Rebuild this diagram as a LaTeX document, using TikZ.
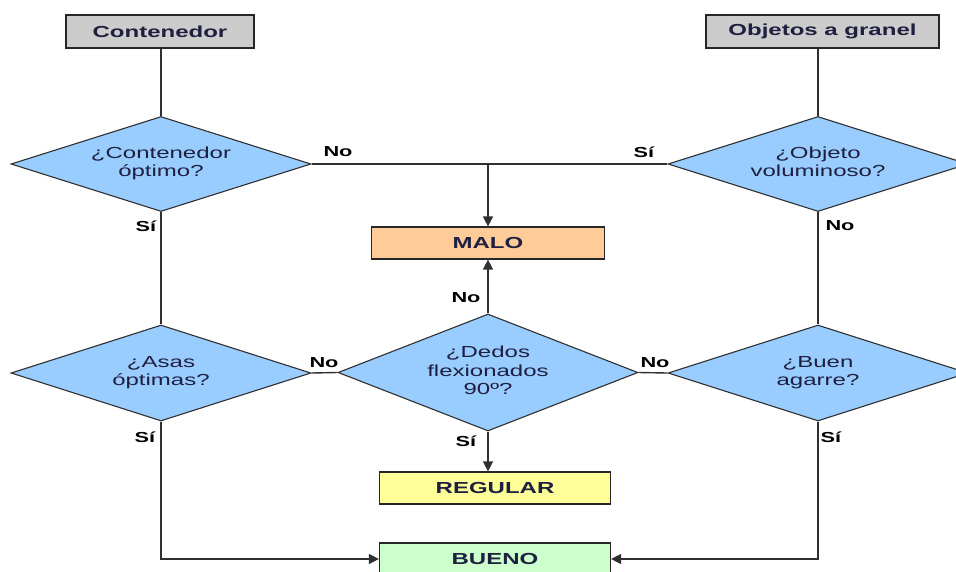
\documentclass[tikz,border=0pt]{standalone}
\usepackage{fontspec}
\setmainfont{Liberation Sans}
\usetikzlibrary{shapes.geometric,arrows.meta}
\definecolor{dblue}{HTML}{99CCFF}
\definecolor{boxgray}{HTML}{CCCCCC}
\definecolor{orangebox}{HTML}{FFCC99}
\definecolor{yellowbox}{HTML}{FFFF99}
\definecolor{greenbox}{HTML}{CCFFCC}
\definecolor{txt}{HTML}{1F1F3F}
\definecolor{edge}{HTML}{303030}
\newcommand\dtxt[1]{\scalebox{1.5}[1]{\fontsize{16}{18.5}\selectfont\begin{tabular}{@{}c@{}}#1\end{tabular}}}
\newcommand\btxt[1]{\scalebox{1.5}[1]{\fontsize{16}{18}\selectfont\bfseries #1}}
\newcommand\ltxt[1]{\scalebox{1.5}[1]{\fontsize{14.5}{16}\selectfont\bfseries #1}}
\tikzset{
  dec/.style={diamond, draw=edge, line width=1.1pt, fill=dblue, text=txt, inner sep=0pt, shape aspect=3.16, minimum width=300pt},
  rbox/.style={rectangle, draw=black!85, line width=1.2pt, text=txt, inner sep=0pt, minimum height=32pt},
  conn/.style={draw=edge, line width=1.4pt},
  arr/.style={conn, -{Triangle[length=10pt,width=10pt]}},
  lab/.style={text=black, inner sep=0pt}
}
\begin{document}
\begin{tikzpicture}[x=1pt,y=-1pt]
\useasboundingbox (0,0) rectangle (956,571);
\clip (0,0) rectangle (956,571);
% boxes
\node[rbox, fill=boxgray, minimum width=188pt, minimum height=33pt] (cont) at (160,31.5) {\btxt{Contenedor}};
\node[rbox, fill=boxgray, minimum width=233pt, minimum height=33pt] (obj) at (822.5,31.5) {\btxt{Objetos a granel}};
\node[rbox, fill=orangebox, minimum width=233pt] (malo) at (488,243) {\btxt{MALO}};
\node[rbox, fill=yellowbox, minimum width=231pt] (regular) at (495,488) {\btxt{REGULAR}};
\node[rbox, fill=greenbox, minimum width=231pt] (bueno) at (495,559) {\btxt{BUENO}};
% decisions
\node[dec, minimum height=95pt] (d1) at (161,164) {\dtxt{¿Contenedor\\óptimo?}};
\node[dec, minimum height=95pt] (d2) at (818,164) {\dtxt{¿Objeto\\voluminoso?}};
\node[dec, minimum height=96pt] (asas) at (161,373) {\dtxt{¿Asas\\óptimas?}};
\node[dec, minimum height=117pt, shape aspect=2.56] (dedos) at (488,372.5) {\dtxt{¿Dedos\\flexionados\\90º?}};
\node[dec, minimum height=96pt] (buen) at (818,373) {\dtxt{¿Buen\\agarre?}};
% connectors
\draw[conn] (d1.north |- cont.south) -- (d1.north);
\draw[conn] (d2.north |- obj.south) -- (d2.north);
\draw[conn] (d1.east) -- (d2.west);
\draw[arr] (d1.east -| malo.north) -- (malo.north);
\draw[conn] (d1) -- (asas);
\draw[conn] (d2) -- (buen);
\draw[conn] (asas.east) -- (dedos.west);
\draw[conn] (dedos.east) -- (buen.west);
\draw[arr] (dedos.north) -- (malo.south -| dedos.north);
\draw[arr] (dedos.south) -- (regular.north -| dedos.south);
\draw[arr] (asas.south) -- (asas.south |- bueno.west) -- (bueno.west);
\draw[arr] (buen.south) -- (buen.south |- bueno.east) -- (bueno.east);
% labels
\node[lab] (l1) at (338,152) {\ltxt{No}};
\node[lab] (l2) at (644,152) {\ltxt{Sí}};
\node[lab] (l3) at (146,226) {\ltxt{Sí}};
\node[lab] (l4) at (840,226) {\ltxt{No}};
\node[lab] (l5) at (466,298) {\ltxt{No}};
\node[lab] (l6) at (324,363) {\ltxt{No}};
\node[lab] (l7) at (655,363) {\ltxt{No}};
\node[lab] (l8) at (145,437) {\ltxt{Sí}};
\node[lab] (l9) at (466,441) {\ltxt{Sí}};
\node[lab] (l10) at (831,437) {\ltxt{Sí}};
\end{tikzpicture}
\end{document}
